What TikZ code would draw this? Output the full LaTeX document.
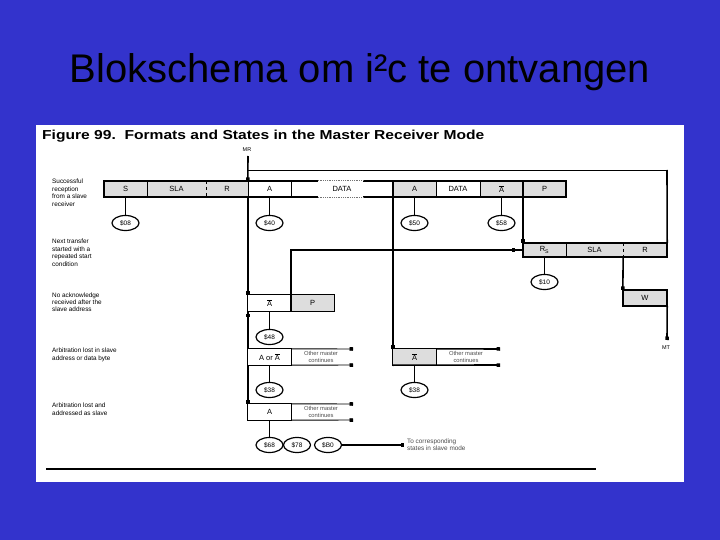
\documentclass[tikz,border=0pt]{standalone}
\usepackage{fontspec}
\setmainfont{Liberation Sans}
\usetikzlibrary{arrows.meta,calc,shapes.geometric}
\definecolor{slideblue}{RGB}{51,51,204}
\definecolor{boxgrey}{RGB}{221,221,221}
\newcommand{\ovl}[1]{$\overline{\mbox{#1}}$}
\begin{document}
\begin{tikzpicture}[x=1pt,y=-1pt,
  cell/.style={inner sep=0pt, minimum height=16pt, font=\fontsize{7.5}{8}\selectfont},
  gcell/.style={cell, fill=boxgrey},
  wcell/.style={cell, fill=white},
  frame/.style={line width=1.5pt},
  thinln/.style={line width=0.9pt},
  flow/.style={line width=1.6pt},
  st/.style={ellipse, draw, line width=1.2pt, minimum width=27pt, minimum height=15pt, inner sep=0pt, font=\fontsize{6.5}{7}\selectfont},
  lbl/.style={anchor=north west, align=left, font=\fontsize{6.4}{7.4}\selectfont, inner sep=0pt},
  note/.style={align=center, font=\fontsize{5.8}{6.8}\selectfont, text=black!70, inner sep=0pt},
  sq/.style={-{Square[length=3.5pt,width=3.5pt]}},
]
% background and panel
\fill[slideblue] (0,0) rectangle (720,540);
\fill[white] (36,125) rectangle (684,482);
\node[anchor=base, font=\fontsize{40}{48}\selectfont, inner sep=0pt] (title) at (360,83) {Blokschema om i²c te ontvangen};
\node[anchor=base west, font=\bfseries\fontsize{13}{15}\selectfont, inner sep=0pt] (figt) at (42,139.5) {\scalebox{1.2}[1]{Figure 99.\ \ Formats and States in the Master Receiver Mode}};

% left labels
\node[lbl] (l1) at (52,179) {Successful\\reception\\from a slave\\receiver};
\node[lbl] (l2) at (52,239) {Next transfer\\started with a\\repeated start\\condition};
\node[lbl, font=\fontsize{6.4}{6.9}\selectfont] (l3) at (52,293) {No acknowledge\\received after the\\slave address};
\node[lbl] (l4) at (52,348) {Arbitration lost in slave\\address or data byte};
\node[lbl] (l5) at (52,403) {Arbitration lost and\\addressed as slave};

% row 1
\node[gcell, minimum width=43pt] (s1) at (125.5,189) {S};
\node[gcell, minimum width=59pt] (sla1) at (176.5,189) {SLA};
\node[gcell, minimum width=42pt] (r1) at (227,189) {R};
\node[wcell, minimum width=43pt] (a1) at (269.5,189) {A};
\node[wcell, minimum width=102pt] (d1) at (342,189) {DATA};
\node[gcell, minimum width=43pt] (a2) at (414.5,189) {A};
\node[wcell, minimum width=44pt] (d2) at (458,189) {DATA};
\node[gcell, minimum width=43pt] (nb1) at (501.5,189) {\ovl{A}};
\node[gcell, minimum width=43pt] (p1) at (544.5,189) {P};
\draw[frame] ($(d1.north west)+(27,0)$) -| (s1.south west) -- ($(d1.south west)+(27,0)$);
\draw[frame] ($(d1.north east)+(-30,0)$) -| (p1.south east) -- ($(d1.south east)+(-30,0)$);
\draw[densely dotted, black!55, line width=0.8pt] ($(d1.north west)+(27,0)$) -- ($(d1.north east)+(-30,0)$);
\draw[densely dotted, black!55, line width=0.8pt] ($(d1.south west)+(27,0)$) -- ($(d1.south east)+(-30,0)$);
\draw[thinln] (s1.north east) -- (s1.south east);
\draw[thinln, dashed] (sla1.north east) -- (sla1.south east);
\draw[thinln] (r1.north east) -- (r1.south east);
\draw[thinln] (a1.north east) -- (a1.south east);
\draw[flow] (d1.north east) -- (d1.south east);
\draw[thinln] (a2.north east) -- (a2.south east);
\draw[thinln] (d2.north east) -- (d2.south east);
\draw[flow] (nb1.north east) -- (nb1.south east);

% states row 1
\node[st] (s08) at (125.5,223) {\$08};
\node[st] (s40) at (269.5,223) {\$40};
\node[st] (s50) at (414.5,223) {\$50};
\node[st] (s58) at (501.5,223) {\$58};
\draw[flow] (s1.south) -- (s08.north);
\draw[flow] (a1.south) -- (s40.north);
\draw[flow] (a2.south) -- (s50.north);
\draw[flow] (nb1.south) -- (s58.north);

% row 2
\node[gcell, minimum width=43pt, minimum height=14pt] (rs) at (544.5,250) {R\textsubscript{S}};
\node[gcell, minimum width=57pt, minimum height=14pt] (sla2) at (594.5,250) {SLA};
\node[gcell, minimum width=44pt, minimum height=14pt] (r2) at (645,250) {R};
\draw[frame] (rs.north west) rectangle (r2.south east);
\draw[thinln] (rs.north east) -- (rs.south east);
\draw[thinln, dashed] (sla2.north east) -- (sla2.south east);
\node[st] (s10) at (544.5,282) {\$10};
\draw[thinln] (rs.south) -- (s10.north);

% W box
\node[gcell, minimum width=44pt] (w) at (645,298) {W};
\draw[frame] (w.north west) rectangle (w.south east);
\coordinate (mt) at (667,340);
\node[font=\fontsize{5.5}{6}\selectfont, inner sep=0pt] (mtlbl) at (666,348) {MT};
\draw[flow, sq] (sla2.south east) -- (w.north west);
\draw[flow, sq] (w.south east) -- (mt);

% MR line and loop
\coordinate (mr) at (248,156);
\node[font=\fontsize{5.5}{6}\selectfont, inner sep=0pt] (mrlbl) at (247,150) {MR};
\coordinate (loop) at (248,170);
\coordinate (corner) at (667,170);
\draw[flow, sq] (mr) -- (a1.north west);
\draw[flow] (r2.north east) -- (corner);
\draw[thinln] (corner) -- (loop);

% row 3
\node[wcell, minimum width=43pt] (nb3) at (269.5,303) {\ovl{A}};
\node[gcell, minimum width=43pt] (p3) at (312.5,303) {P};
\draw[thinln] (nb3.north west) rectangle (p3.south east);
\draw[flow] (p3.north west) -- (p3.south west);
\node[st] (s48) at (269.5,337) {\$48};
\draw[flow] (nb3.south) -- (s48.north);

% row 4
\node[wcell, minimum width=43pt] (aor) at (269.5,357) {A or \ovl{A}};
\draw[thinln] (aor.north west) rectangle (aor.south east);
\node[note] (om4) at (321,357) {Other master\\continues};
\coordinate (e4t) at (353,349);
\coordinate (e4b) at (353,365);
\draw[thinln, sq] (aor.north east) -- (e4t);
\draw[thinln, sq] (aor.south east) -- (e4b);
\node[st] (s38a) at (269.5,390) {\$38};
\draw[flow] (aor.south) -- (s38a.north);

\node[gcell, minimum width=43pt] (nb4) at (414.5,357) {\ovl{A}};
\draw[thinln] (nb4.north west) rectangle (nb4.south east);
\node[note] (om4b) at (466,357) {Other master\\continues};
\coordinate (f4t) at (500,349);
\coordinate (f4b) at (500,365);
\draw[flow, sq] (nb4.north east) -- (f4t);
\draw[flow, sq] (nb4.south west) -- (f4b);
\node[st] (s38b) at (414.5,390) {\$38};
\draw[flow] (nb4.south) -- (s38b.north);

% row 5
\node[wcell, minimum width=43pt] (a5) at (269.5,412) {A};
\draw[thinln] (a5.north west) rectangle (a5.south east);
\node[note] (om5) at (321,412) {Other master\\continues};
\coordinate (e5t) at (353,404);
\coordinate (e5b) at (353,420);
\draw[thinln, sq] (a5.north east) -- (e5t);
\draw[thinln, sq] (a5.south east) -- (e5b);
\node[st] (s68) at (269.5,445) {\$68};
\node[st] (s78) at (297,445) {\$78};
\node[st] (sb0) at (328,445) {\$B0};
\draw[flow] (a5.south) -- (s68.north);
\coordinate (tocs) at (404,445);
\draw[flow, sq] (sb0.east) -- (tocs);
\node[note, anchor=west, align=left, font=\fontsize{6.4}{7}\selectfont] (tcs) at (407,445) {To corresponding\\states in slave mode};

% vertical flows
\draw[flow, sq] (a1.south west) -- (nb3.north west);
\draw[flow] (nb3.south west) -- (aor.north west);
\fill (246.2,313.8) rectangle (249.8,317.3);
\draw[flow, sq] (aor.south west) -- (a5.north west);
\draw[flow, sq] (a2.south west) -- (nb4.north west);
\draw[flow, sq] (p1.south west) -- (rs.north west);
\draw[flow] (p3.north west) |- (rs.west);
\fill (511.5,248.2) rectangle (515,251.7);

% bottom rule
\coordinate (bl) at (46,469);
\coordinate (br) at (596,469);
\draw[line width=1.3pt] (bl) -- (br);
\end{tikzpicture}
\end{document}
